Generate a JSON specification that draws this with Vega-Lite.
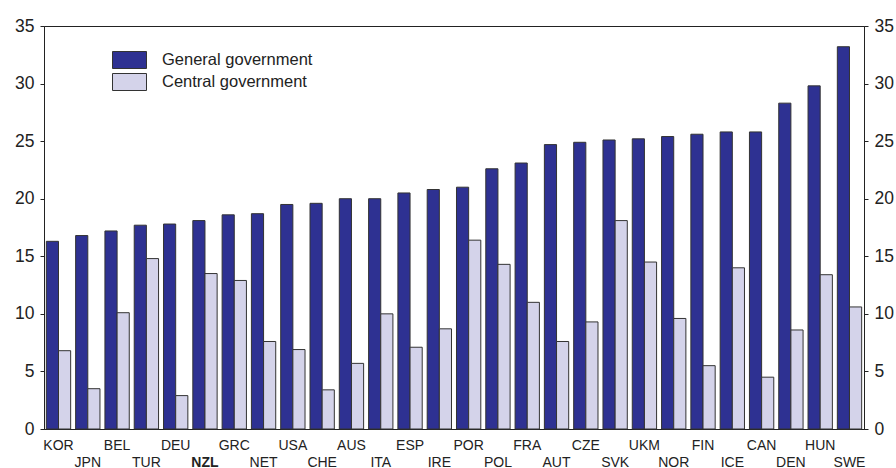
{
  "$schema": "https://vega.github.io/schema/vega-lite/v6.json",
  "width": 820,
  "height": 403,
  "autosize": {"type": "none"},
  "padding": {"left": 44, "top": 26, "right": 32, "bottom": 39},
  "background": "white",
  "config": {
    "font": "Liberation Sans",
    "view": {"stroke": "#222", "strokeWidth": 1}
  },
  "data": {
    "values": [
      {"country": "KOR", "series": "General government", "value": 16.3},
      {"country": "KOR", "series": "Central government", "value": 6.8},
      {"country": "JPN", "series": "General government", "value": 16.8},
      {"country": "JPN", "series": "Central government", "value": 3.5},
      {"country": "BEL", "series": "General government", "value": 17.2},
      {"country": "BEL", "series": "Central government", "value": 10.1},
      {"country": "TUR", "series": "General government", "value": 17.7},
      {"country": "TUR", "series": "Central government", "value": 14.8},
      {"country": "DEU", "series": "General government", "value": 17.8},
      {"country": "DEU", "series": "Central government", "value": 2.9},
      {"country": "NZL", "series": "General government", "value": 18.1},
      {"country": "NZL", "series": "Central government", "value": 13.5},
      {"country": "GRC", "series": "General government", "value": 18.6},
      {"country": "GRC", "series": "Central government", "value": 12.9},
      {"country": "NET", "series": "General government", "value": 18.7},
      {"country": "NET", "series": "Central government", "value": 7.6},
      {"country": "USA", "series": "General government", "value": 19.5},
      {"country": "USA", "series": "Central government", "value": 6.9},
      {"country": "CHE", "series": "General government", "value": 19.6},
      {"country": "CHE", "series": "Central government", "value": 3.4},
      {"country": "AUS", "series": "General government", "value": 20.0},
      {"country": "AUS", "series": "Central government", "value": 5.7},
      {"country": "ITA", "series": "General government", "value": 20.0},
      {"country": "ITA", "series": "Central government", "value": 10.0},
      {"country": "ESP", "series": "General government", "value": 20.5},
      {"country": "ESP", "series": "Central government", "value": 7.1},
      {"country": "IRE", "series": "General government", "value": 20.8},
      {"country": "IRE", "series": "Central government", "value": 8.7},
      {"country": "POR", "series": "General government", "value": 21.0},
      {"country": "POR", "series": "Central government", "value": 16.4},
      {"country": "POL", "series": "General government", "value": 22.6},
      {"country": "POL", "series": "Central government", "value": 14.3},
      {"country": "FRA", "series": "General government", "value": 23.1},
      {"country": "FRA", "series": "Central government", "value": 11.0},
      {"country": "AUT", "series": "General government", "value": 24.7},
      {"country": "AUT", "series": "Central government", "value": 7.6},
      {"country": "CZE", "series": "General government", "value": 24.9},
      {"country": "CZE", "series": "Central government", "value": 9.3},
      {"country": "SVK", "series": "General government", "value": 25.1},
      {"country": "SVK", "series": "Central government", "value": 18.1},
      {"country": "UKM", "series": "General government", "value": 25.2},
      {"country": "UKM", "series": "Central government", "value": 14.5},
      {"country": "NOR", "series": "General government", "value": 25.4},
      {"country": "NOR", "series": "Central government", "value": 9.6},
      {"country": "FIN", "series": "General government", "value": 25.6},
      {"country": "FIN", "series": "Central government", "value": 5.5},
      {"country": "ICE", "series": "General government", "value": 25.8},
      {"country": "ICE", "series": "Central government", "value": 14.0},
      {"country": "CAN", "series": "General government", "value": 25.8},
      {"country": "CAN", "series": "Central government", "value": 4.5},
      {"country": "DEN", "series": "General government", "value": 28.3},
      {"country": "DEN", "series": "Central government", "value": 8.6},
      {"country": "HUN", "series": "General government", "value": 29.8},
      {"country": "HUN", "series": "Central government", "value": 13.4},
      {"country": "SWE", "series": "General government", "value": 33.2},
      {"country": "SWE", "series": "Central government", "value": 10.6}
    ]
  },
  "layer": [
    {
      "mark": {"type": "bar", "stroke": "#333", "strokeWidth": 1},
      "encoding": {
        "x": {
          "field": "country",
          "type": "nominal",
          "sort": null,
          "scale": {"paddingInner": 0.17, "paddingOuter": 0.08},
          "axis": {
            "title": null,
            "labelAngle": 0,
            "ticks": false,
            "labelPadding": 9.5,
            "labelFontSize": 14,
            "labelColor": "#222",
            "labelLineHeight": 16.5,
            "domainColor": "#222",
            "labelFontWeight": {"condition": {"test": "datum.value == 'NZL'", "value": "bold"}, "value": "normal"},
            "labelExpr": "indexof(['JPN','TUR','NZL','NET','CHE','ITA','IRE','POL','AUT','SVK','NOR','ICE','DEN','SWE'], datum.value) >= 0 ? ['', datum.value] : datum.value"
          }
        },
        "xOffset": {
          "field": "series",
          "type": "nominal",
          "sort": ["General government", "Central government"],
          "scale": {"paddingInner": 0, "paddingOuter": 0}
        },
        "y": {
          "field": "value",
          "type": "quantitative",
          "scale": {"domain": [0, 35], "nice": false},
          "axis": {
            "title": null,
            "orient": "left",
            "values": [0, 5, 10, 15, 20, 25, 30, 35],
            "grid": false,
            "tickSize": 4,
            "tickColor": "#222",
            "domainColor": "#222",
            "labelFontSize": 17.5,
            "labelColor": "#222",
            "labelPadding": 6
          }
        },
        "color": {
          "field": "series",
          "type": "nominal",
          "sort": ["General government", "Central government"],
          "scale": {"domain": ["General government", "Central government"], "range": ["#2E3192", "#D4D3EA"]},
          "legend": {
            "title": null,
            "orient": "none",
            "legendX": 76.5,
            "legendY": 25,
            "symbolType": "M-2,-1H2V1H-2Z",
            "symbolSize": 289,
            "symbolStrokeColor": "#333",
            "symbolStrokeWidth": 1,
            "symbolOpacity": 1,
            "labelFontSize": 16.5,
            "labelColor": "#222",
            "labelOffset": 23.5,
            "rowPadding": 0
          }
        }
      }
    },
    {
      "mark": {"type": "rule", "strokeOpacity": 0},
      "encoding": {
        "y": {
          "field": "value",
          "type": "quantitative",
          "scale": {"domain": [0, 35], "nice": false},
          "axis": {
            "title": null,
            "orient": "right",
            "values": [0, 5, 10, 15, 20, 25, 30, 35],
            "grid": false,
            "tickSize": 4,
            "tickColor": "#222",
            "domainColor": "#222",
            "labelFontSize": 17.5,
            "labelColor": "#222",
            "labelPadding": 6
          }
        }
      }
    }
  ],
  "resolve": {"axis": {"y": "independent"}}
}
